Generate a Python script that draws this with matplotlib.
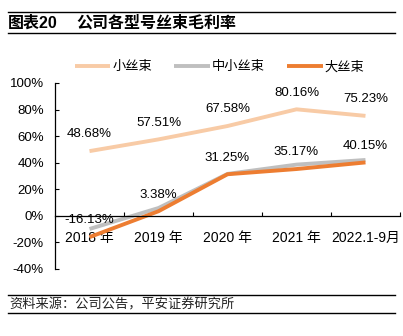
import numpy as np
import matplotlib as mpl
mpl.use('Agg')
import matplotlib.pyplot as plt

plt.rcParams['font.family'] = ['Liberation Sans', 'Noto Sans CJK SC', 'DejaVu Sans']

## chart data
years = ['2018 年', '2019 年', '2020 年', '2021 年', '2022.1-9月']
small_tow = [48.68, 57.51, 67.58, 80.16, 75.23]
mid_small_tow = [-10.0, 5.8, 31.5, 38.5, 42.0]
large_tow = [-16.13, 3.38, 31.25, 35.17, 40.15]
series_names = ['小丝束', '中小丝束', '大丝束']
title_no = '图表20'
title_txt = '公司各型号丝束毛利率'
source_txt = '资料来源：公司公告，平安证券研究所'

colors = ['#F8CBA6', '#BFBFBF', '#ED7D31']

fig = plt.figure(figsize=(4.03, 3.36), dpi=100)
ax = fig.add_axes([0.1365, 0.200, 0.856, 0.553])

x = np.arange(len(years))
for vals, name, c in zip([small_tow, mid_small_tow, large_tow], series_names, colors):
    ax.plot(x, vals, color=c, lw=2.8, label=name, solid_capstyle='butt')

## value labels above points
for vals in (small_tow, large_tow):
    for xi, v in zip(x, vals):
        ax.annotate('{0:.2f}%'.format(v), (xi, v), xytext=(0, 12),
                    textcoords='offset points', ha='center', va='center',
                    fontsize=9.5)

ax.set_xlim(-0.5, 4.5)
ax.set_ylim(-40, 100)
ax.set_yticks(np.arange(-40, 101, 20))
ax.set_yticklabels(['{0}%'.format(v) for v in range(-40, 101, 20)], fontsize=9.5)
ax.set_xticks(x)
ax.set_xticklabels(years, fontsize=9.5)
ax.set_xticks(np.arange(0.5, 4.6, 1), minor=True)
ax.tick_params(axis='x', which='major', length=0, pad=11)
ax.tick_params(axis='x', which='minor', direction='in', length=3, width=0.8)
ax.tick_params(axis='y', direction='in', length=3, width=0.8, pad=8)

ax.spines['top'].set_visible(False)
ax.spines['right'].set_visible(False)
ax.spines['bottom'].set_position(('data', 0))
ax.spines['bottom'].set_linewidth(0.9)
ax.spines['left'].set_linewidth(0.9)

fig.legend(loc='center', bbox_to_anchor=(0.545, 0.80), ncol=3, frameon=False,
           fontsize=9.5, handlelength=2.7, handletextpad=0.15, columnspacing=1.7)

## header and footer
fig.add_artist(plt.Line2D([0.02, 0.98], [0.965, 0.965], color='black', lw=1))
fig.add_artist(plt.Line2D([0.02, 0.98], [0.901, 0.901], color='black', lw=1))
fig.text(0.02, 0.933, title_no, fontsize=11.5, fontweight='bold', va='center')
fig.text(0.19, 0.933, title_txt, fontsize=11.5, fontweight='bold', va='center')

fig.add_artist(plt.Line2D([0.02, 0.98], [0.121, 0.121], color='black', lw=1))
fig.add_artist(plt.Line2D([0.02, 0.98], [0.068, 0.068], color='black', lw=1))
fig.text(0.022, 0.093, source_txt, fontsize=9.5, style='italic', va='center',
         color='#222222')

fig.savefig('out.png', dpi=100)
